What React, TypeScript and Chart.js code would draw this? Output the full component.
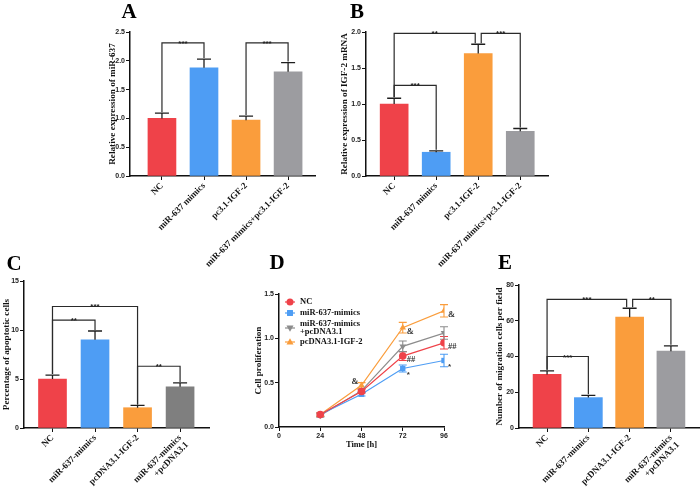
import React, { useEffect, useRef } from 'react';
import { Chart, registerables } from 'chart.js';

Chart.register(...registerables);

const W = 700;
const H = 489;
const SERIF = '"Liberation Serif", "Times New Roman", serif';
const SANS = '"Liberation Sans", Arial, sans-serif';

const RED = '#EF4249';
const BLUE = '#4E9DF4';
const ORANGE = '#FA9D3C';
const GREY = '#9C9CA0';
const DGREY = '#7F7F7F';
const LGREY = '#8C8C8C';

// ---------- Panel A
const catsA = ['NC', 'miR-637 mimics', 'pc3.1-IGF-2', 'miR-637 mimics+pc3.1-IGF-2'];
const meanA = [1.0, 1.88, 0.97, 1.81];
const errA = [0.09, 0.15, 0.07, 0.16];
const sigA = [
  { a: 0, b: 1, y: 2.31, t: '***' },
  { a: 2, b: 3, y: 2.31, t: '***' },
];
const yTicksA = [0, 0.5, 1.0, 1.5, 2.0, 2.5];

// ---------- Panel B
const catsB = ['NC', 'miR-637 mimics', 'pc3.1-IGF-2', 'miR-637 mimics+pc3.1-IGF-2'];
const meanB = [1.0, 0.33, 1.7, 0.62];
const errB = [0.08, 0.02, 0.13, 0.04];
const sigB = [
  { a: 0, b: 2, y: 1.98, t: '**' },
  { a: 2, b: 3, y: 1.98, t: '***' },
  { a: 0, b: 1, y: 1.26, t: '***' },
];
const yTicksB = [0, 0.5, 1.0, 1.5, 2.0];

// ---------- Panel C
const catsC = ['NC', 'miR-637-mimics', 'pcDNA3.1-IGF-2', ['miR-637-mimics', '+pcDNA3.1']];
const meanC = [5.0, 9.0, 2.07, 4.2];
const errC = [0.4, 0.9, 0.23, 0.4];
const sigC = [
  { a: 0, b: 2, y: 12.4, t: '***' },
  { a: 0, b: 1, y: 11.0, t: '**' },
  { a: 2, b: 3, y: 6.3, t: '**' },
];
const yTicksC = [0, 5, 10, 15];

// ---------- Panel D
const timesD = [24, 48, 72, 96];
const xTicksD = [0, 24, 48, 72, 96];
const yTicksD = [0, 0.5, 1.0, 1.5];
const namesD = ['NC', 'miR-637-mimics', ['miR-637-mimics', '+pcDNA3.1'], 'pcDNA3.1-IGF-2'];
const ncD = [0.14, 0.4, 0.8, 0.95];
const ncErrD = [0.02, 0.02, 0.05, 0.07];
const mimD = [0.14, 0.37, 0.66, 0.75];
const mimErrD = [0.02, 0.02, 0.04, 0.07];
const mpcD = [0.13, 0.41, 0.91, 1.06];
const mpcErrD = [0.02, 0.02, 0.06, 0.07];
const igfD = [0.14, 0.47, 1.12, 1.31];
const igfErrD = [0.02, 0.03, 0.06, 0.07];
// series index, time index, mark, placed on left?
const marksD = [
  { s: 3, i: 1, t: '&', left: true },
  { s: 3, i: 2, t: '&', left: false },
  { s: 0, i: 2, t: '##', left: false },
  { s: 1, i: 2, t: '*', left: false },
  { s: 3, i: 3, t: '&', left: false },
  { s: 0, i: 3, t: '##', left: false },
  { s: 1, i: 3, t: '*', left: false },
];

// ---------- Panel E
const catsE = ['NC', 'miR-637-mimics', 'pcDNA3.1-IGF-2', ['miR-637-mimics', '+pcDNA3.1']];
const meanE = [30, 17, 62, 43];
const errE = [2.0, 1.3, 5.0, 3.0];
const sigE = [
  { a: 0, b: 2, y: 72, t: '***' },
  { a: 2, b: 3, y: 72, t: '**' },
  { a: 0, b: 1, y: 40, t: '***' },
];
const yTicksE = [0, 20, 40, 60, 80];

// ---------- helpers
function drawYTitle(ctx: CanvasRenderingContext2D, text: string, x: number, y: number) {
  ctx.save();
  ctx.translate(x, y);
  ctx.rotate(-Math.PI / 2);
  ctx.font = `bold 9.2px ${SERIF}`;
  ctx.fillStyle = '#111';
  ctx.textAlign = 'center';
  ctx.textBaseline = 'middle';
  ctx.fillText(text, 0, 0);
  ctx.restore();
}

function drawLetter(ctx: CanvasRenderingContext2D, text: string, x: number, y: number) {
  ctx.save();
  ctx.font = `bold 21px ${SERIF}`;
  ctx.fillStyle = '#000';
  ctx.textAlign = 'center';
  ctx.textBaseline = 'alphabetic';
  ctx.fillText(text, x, y);
  ctx.restore();
}

const barDecor = {
  id: 'barDecor',
  afterDatasetsDraw(chart: any, _a: any, o: any) {
    const { ctx } = chart;
    const xs = chart.scales.x;
    const ys = chart.scales.y;
    ctx.save();
    ctx.strokeStyle = '#1e1e1e';
    ctx.lineWidth = 1.3;
    o.mean.forEach((m: number, i: number) => {
      const x = xs.getPixelForValue(i);
      const y0 = ys.getPixelForValue(m);
      const y1 = ys.getPixelForValue(m + o.err[i]);
      ctx.beginPath();
      ctx.moveTo(x, y0);
      ctx.lineTo(x, y1);
      ctx.moveTo(x - 7, y1);
      ctx.lineTo(x + 7, y1);
      ctx.stroke();
    });
    ctx.lineWidth = 1.2;
    ctx.strokeStyle = '#2a2a2a';
    o.sig.forEach((s: any, k: number) => {
      let xa = xs.getPixelForValue(s.a);
      let xb = xs.getPixelForValue(s.b);
      const sharedA = o.sig.some((q: any, j: number) => j !== k && q.y === s.y && q.b === s.a);
      const sharedB = o.sig.some((q: any, j: number) => j !== k && q.y === s.y && q.a === s.b);
      if (sharedA) xa += 3;
      if (sharedB) xb -= 3;
      const yb = ys.getPixelForValue(s.y);
      const ya = ys.getPixelForValue(o.mean[s.a] + o.err[s.a]) - 1;
      const yB = ys.getPixelForValue(o.mean[s.b] + o.err[s.b]) - 1;
      ctx.beginPath();
      ctx.moveTo(xa, ya);
      ctx.lineTo(xa, yb);
      ctx.lineTo(xb, yb);
      ctx.lineTo(xb, yB);
      ctx.stroke();
      ctx.font = `bold 8px ${SANS}`;
      ctx.fillStyle = '#222';
      ctx.textAlign = 'center';
      ctx.textBaseline = 'alphabetic';
      ctx.fillText(s.t, (xa + xb) / 2, yb + 3);
    });
    ctx.restore();
  },
  afterDraw(chart: any, _a: any, o: any) {
    const { ctx, chartArea } = chart;
    drawYTitle(ctx, o.title, o.titleX, (chartArea.top + chartArea.bottom) / 2);
    drawLetter(ctx, o.letter, o.letterX, o.letterY);
  },
};

function axisCommon() {
  return {
    grid: { display: true, drawOnChartArea: false, drawTicks: true, tickLength: 4, color: '#111', lineWidth: 1, offset: false },
    border: { display: true, color: '#111', width: 1.5 },
  };
}

const YW = 24;

function barConfig(p: any): any {
  const xh = Math.min(110, H - p.box.b);
  return {
    type: 'bar',
    data: {
      datasets: [
        {
          data: p.mean.map((v: number, i: number) => ({ x: i, y: v })),
          backgroundColor: p.colors,
          borderWidth: 0,
          barThickness: 28,
        },
      ],
    },
    options: {
      responsive: false,
      animation: false,
      devicePixelRatio: 1,
      layout: { padding: { left: p.box.l - YW, right: W - p.box.r, top: p.box.t, bottom: H - p.box.b - xh } },
      plugins: {
        legend: { display: false },
        tooltip: { enabled: false },
        barDecor: { mean: p.mean, err: p.err, sig: p.sig, title: p.title, titleX: p.titleX, letter: p.letter, letterX: p.letterX, letterY: p.letterY },
      },
      scales: {
        x: {
          type: 'linear',
          min: p.xmin,
          max: p.xmax,
          offset: false,
          afterBuildTicks: (s: any) => {
            s.ticks = p.cats.map((_: any, i: number) => ({ value: i }));
          },
          afterFit: (s: any) => {
            s.height = xh;
          },
          ...axisCommon(),
          ticks: {
            autoSkip: false,
            minRotation: 45,
            maxRotation: 45,
            padding: 1,
            color: '#111',
            font: { family: SERIF, size: 9, weight: 'bold', lineHeight: 1.1 },
            callback: (v: number) => p.cats[v] ?? '',
          },
        },
        y: {
          type: 'linear',
          min: 0,
          max: p.ymax,
          afterBuildTicks: (s: any) => {
            s.ticks = p.yticks.map((v: number) => ({ value: v }));
          },
          afterFit: (s: any) => {
            s.width = YW;
          },
          ...axisCommon(),
          ticks: {
            padding: 1,
            color: '#222',
            font: { family: SANS, size: 7, weight: 'bold' },
            callback: (v: number) => v.toFixed(p.dec),
          },
        },
      },
    },
    plugins: [barDecor],
  };
}

const cfgA = () =>
  barConfig({
    cats: catsA, mean: meanA, err: errA, sig: sigA, yticks: yTicksA, ymax: 2.5, dec: 1,
    colors: [RED, BLUE, ORANGE, GREY],
    box: { l: 130, r: 315, t: 32, b: 176 }, xmin: -0.76, xmax: 3.64,
    title: 'Relative expression of miR-637', titleX: 113, letter: 'A', letterX: 129, letterY: 18,
  });

const cfgB = () =>
  barConfig({
    cats: catsB, mean: meanB, err: errB, sig: sigB, yticks: yTicksB, ymax: 2.0, dec: 1,
    colors: [RED, BLUE, ORANGE, GREY],
    box: { l: 366, r: 548, t: 32, b: 176 }, xmin: -0.67, xmax: 3.66,
    title: 'Relative expression of IGF-2 mRNA', titleX: 345, letter: 'B', letterX: 357, letterY: 18,
  });

const cfgC = () =>
  barConfig({
    cats: catsC, mean: meanC, err: errC, sig: sigC, yticks: yTicksC, ymax: 15, dec: 0,
    colors: [RED, BLUE, ORANGE, DGREY],
    box: { l: 24, r: 209, t: 281, b: 428 }, xmin: -0.67, xmax: 3.68,
    title: 'Percentage of apoptotic cells', titleX: 7, letter: 'C', letterX: 14, letterY: 270,
  });

const cfgE = () =>
  barConfig({
    cats: catsE, mean: meanE, err: errE, sig: sigE, yticks: yTicksE, ymax: 80, dec: 0,
    colors: [RED, BLUE, ORANGE, GREY],
    box: { l: 519, r: 699, t: 285, b: 428 }, xmin: -0.68, xmax: 3.68,
    title: 'Number of migration cells per field', titleX: 500, letter: 'E', letterX: 505, letterY: 269,
  });

// ---------- line panel D
const seriesD = [
  { name: namesD[0], v: ncD, e: ncErrD, color: RED, style: 'circle', rot: 0 },
  { name: namesD[1], v: mimD, e: mimErrD, color: BLUE, style: 'rect', rot: 0 },
  { name: namesD[2], v: mpcD, e: mpcErrD, color: LGREY, style: 'triangle', rot: 180 },
  { name: namesD[3], v: igfD, e: igfErrD, color: ORANGE, style: 'triangle', rot: 0 },
];

function drawMarker(ctx: CanvasRenderingContext2D, style: string, rot: number, x: number, y: number, r: number, color: string) {
  ctx.save();
  ctx.fillStyle = color;
  ctx.beginPath();
  if (style === 'circle') {
    ctx.arc(x, y, r, 0, Math.PI * 2);
  } else if (style === 'rect') {
    ctx.rect(x - r * 0.85, y - r * 0.85, r * 1.7, r * 1.7);
  } else {
    const d = rot === 180 ? -1 : 1;
    ctx.moveTo(x, y - d * r * 1.05);
    ctx.lineTo(x - r, y + d * r * 0.7);
    ctx.lineTo(x + r, y + d * r * 0.7);
    ctx.closePath();
  }
  ctx.fill();
  ctx.restore();
}

const lineDecor = {
  id: 'lineDecor',
  beforeDatasetsDraw(chart: any) {
    const { ctx } = chart;
    const xs = chart.scales.x;
    const ys = chart.scales.y;
    ctx.save();
    ctx.lineWidth = 1.1;
    seriesD.forEach((s) => {
      ctx.strokeStyle = s.color;
      s.v.forEach((v, i) => {
        const x = xs.getPixelForValue(timesD[i]);
        const y0 = ys.getPixelForValue(v - s.e[i]);
        const y1 = ys.getPixelForValue(v + s.e[i]);
        ctx.beginPath();
        ctx.moveTo(x, y0);
        ctx.lineTo(x, y1);
        ctx.moveTo(x - 4, y0);
        ctx.lineTo(x + 4, y0);
        ctx.moveTo(x - 4, y1);
        ctx.lineTo(x + 4, y1);
        ctx.stroke();
      });
    });
    ctx.restore();
  },
  afterDraw(chart: any) {
    const { ctx, chartArea } = chart;
    const xs = chart.scales.x;
    const ys = chart.scales.y;
    ctx.save();
    ctx.fillStyle = '#333';
    ctx.textBaseline = 'middle';
    marksD.forEach((m) => {
      const s = seriesD[m.s];
      const x = xs.getPixelForValue(timesD[m.i]);
      const y = ys.getPixelForValue(s.v[m.i]);
      ctx.font = m.t === '*' ? `bold 8px ${SANS}` : `bold 8.5px ${SERIF}`;
      if (m.left) {
        ctx.textAlign = 'right';
        ctx.fillText(m.t, x - 3, y - 4);
      } else {
        ctx.textAlign = 'left';
        ctx.fillText(m.t, x + 4, y + (m.t === '*' ? 6 : 4));
      }
    });
    const lx = chartArea.left + 11;
    const rows = [302, 313, 328, 342];
    ctx.font = `bold 8.5px ${SERIF}`;
    ctx.textAlign = 'left';
    ctx.textBaseline = 'middle';
    seriesD.forEach((s, k) => {
      const y = rows[k];
      ctx.strokeStyle = s.color;
      ctx.lineWidth = 1.2;
      ctx.beginPath();
      ctx.moveTo(lx - 5, y);
      ctx.lineTo(lx + 5, y);
      ctx.stroke();
      drawMarker(ctx, s.style, s.rot, lx, y, 3.5, s.color);
      ctx.fillStyle = '#111';
      const lines = Array.isArray(s.name) ? s.name : [s.name];
      lines.forEach((t, j) => {
        ctx.fillText(t, lx + 10, y + (j - (lines.length - 1) / 2) * 8.5);
      });
    });
    ctx.font = `bold 8.5px ${SERIF}`;
    ctx.textAlign = 'center';
    ctx.fillStyle = '#111';
    ctx.fillText('Time [h]', (chartArea.left + chartArea.right) / 2, 445);
    ctx.restore();
    drawYTitle(ctx, 'Cell proliferation', 259, (chartArea.top + chartArea.bottom) / 2);
    drawLetter(ctx, 'D', 277, 269);
  },
};

const cfgD = (): any => ({
  type: 'line',
  data: {
    datasets: seriesD.map((s) => ({
      label: Array.isArray(s.name) ? s.name.join(' ') : s.name,
      data: s.v.map((v, i) => ({ x: timesD[i], y: v })),
      borderColor: s.color,
      backgroundColor: s.color,
      borderWidth: 1.2,
      pointStyle: s.style,
      pointRotation: s.rot,
      pointRadius: 3.8,
      pointBorderWidth: 0,
      tension: 0,
    })),
  },
  options: {
    responsive: false,
    animation: false,
    devicePixelRatio: 1,
    layout: { padding: { left: 279 - YW, right: W - 444, top: 294, bottom: H - 427 - 14 } },
    plugins: { legend: { display: false }, tooltip: { enabled: false } },
    scales: {
      x: {
        type: 'linear',
        min: 0,
        max: 96,
        afterBuildTicks: (s: any) => {
          s.ticks = xTicksD.map((v) => ({ value: v }));
        },
        afterFit: (s: any) => {
          s.height = 14;
        },
        ...axisCommon(),
        ticks: { padding: 1, color: '#222', font: { family: SANS, size: 7, weight: 'bold' } },
      },
      y: {
        type: 'linear',
        min: 0,
        max: 1.5,
        afterBuildTicks: (s: any) => {
          s.ticks = yTicksD.map((v) => ({ value: v }));
        },
        afterFit: (s: any) => {
          s.width = YW;
        },
        ...axisCommon(),
        ticks: {
          padding: 1,
          color: '#222',
          font: { family: SANS, size: 7, weight: 'bold' },
          callback: (v: number) => v.toFixed(1),
        },
      },
    },
  },
  plugins: [lineDecor],
});

function Panel({ make }: { make: () => any }) {
  const ref = useRef<HTMLCanvasElement | null>(null);
  useEffect(() => {
    const c = new Chart(ref.current as HTMLCanvasElement, make());
    return () => c.destroy();
  }, []);
  return (
    <canvas
      ref={ref}
      width={W}
      height={H}
      style={{ position: 'absolute', left: 0, top: 0, width: W, height: H, pointerEvents: 'none' }}
    />
  );
}

export default function App() {
  return (
    <div style={{ position: 'fixed', left: 0, top: 0, width: W, height: H, background: '#fff', overflow: 'hidden' }}>
      <Panel make={cfgA} />
      <Panel make={cfgB} />
      <Panel make={cfgC} />
      <Panel make={cfgD} />
      <Panel make={cfgE} />
    </div>
  );
}
